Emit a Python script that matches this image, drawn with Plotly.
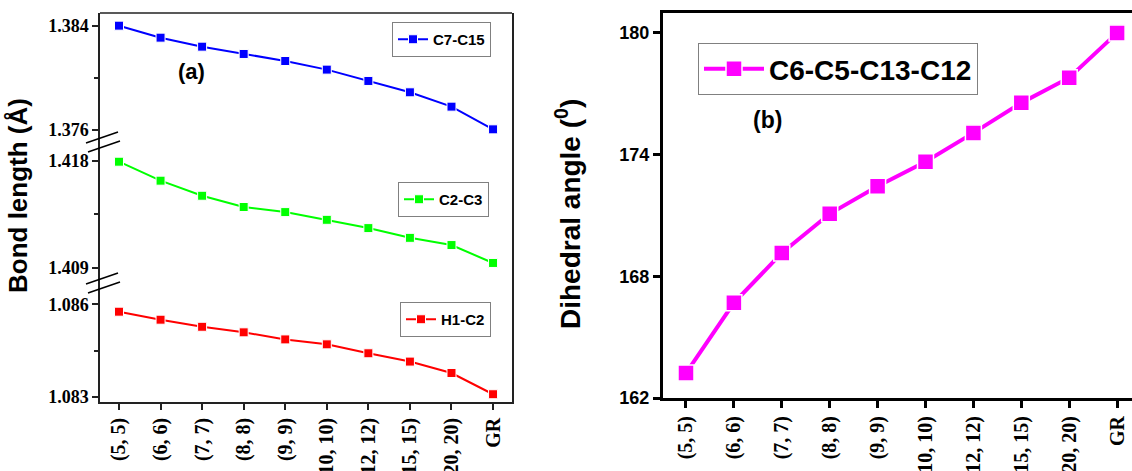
import plotly.graph_objects as go

W, H = 1132, 471

categories = ["(5, 5)", "(6, 6)", "(7, 7)", "(8, 8)", "(9, 9)", "(10, 10)",
              "(12, 12)", "(15, 15)", "(20, 20)", "GR"]

c7_c15 = [1.3840, 1.38308, 1.38239, 1.38183, 1.38129, 1.38063, 1.37976, 1.37889, 1.37779, 1.37605]
c2_c3 = [1.41794, 1.41634, 1.41507, 1.41412, 1.41369, 1.41304, 1.41234, 1.41152, 1.41091, 1.40940]
h1_c2 = [1.08576, 1.08550, 1.08527, 1.08509, 1.08486, 1.08470, 1.08441, 1.08414, 1.08377, 1.08308]
dihedral = [163.23, 166.69, 169.15, 171.08, 172.44, 173.65, 175.07, 176.55, 177.79, 180.0]


def px(x):
    return x / W


def py(y):
    return 1 - y / H


SERIF = "Liberation Serif, Times New Roman, serif"
SANS = "Liberation Sans, Arial, sans-serif"

fig = go.Figure()

mk_line = dict(color="white", width=1)
fig.add_trace(go.Scatter(x=categories, y=c7_c15, name="C7-C15", mode="lines+markers",
                         line=dict(color="#0000FF", width=2),
                         marker=dict(symbol="square", size=9, color="#0000FF", line=mk_line),
                         xaxis="x", yaxis="y", legend="legend", cliponaxis=False))
fig.add_trace(go.Scatter(x=categories, y=c2_c3, name="C2-C3", mode="lines+markers",
                         line=dict(color="#00FF00", width=2),
                         marker=dict(symbol="square", size=9, color="#00FF00", line=mk_line),
                         xaxis="x", yaxis="y2", legend="legend2", cliponaxis=False))
fig.add_trace(go.Scatter(x=categories, y=h1_c2, name="H1-C2", mode="lines+markers",
                         line=dict(color="#FF0000", width=2),
                         marker=dict(symbol="square", size=9, color="#FF0000", line=mk_line),
                         xaxis="x", yaxis="y3", legend="legend3", cliponaxis=False))
fig.add_trace(go.Scatter(x=categories, y=dihedral, name="C6-C5-C13-C12", mode="lines+markers",
                         line=dict(color="#FF00FF", width=4),
                         marker=dict(symbol="square", size=16, color="#FF00FF",
                                     line=dict(color="white", width=1.5)),
                         xaxis="x2", yaxis="y4", legend="legend4", cliponaxis=False))

left_axis_col = "#222222"
ytick_font_l = dict(family=SERIF, size=18, color="black", weight="bold")
xtick_font = dict(family=SERIF, size=20, color="black", weight="bold")

common_left_y = dict(showline=True, linecolor=left_axis_col, linewidth=1.5, mirror=True,
                     ticks="outside", ticklen=6, tickwidth=1.5, tickcolor=left_axis_col,
                     showgrid=False, zeroline=False, tickfont=ytick_font_l, anchor="x",
                     automargin=False)

fig.update_layout(
    template="none",
    width=W, height=H,
    margin=dict(l=0, r=0, t=0, b=0),
    paper_bgcolor="white", plot_bgcolor="white",
    showlegend=True,
    xaxis=dict(domain=[px(100), px(512)], range=[-0.457, 9.456], anchor="y3",
               showline=True, linecolor=left_axis_col, linewidth=1.5,
               ticks="outside", ticklen=6, tickwidth=1.5, tickcolor=left_axis_col,
               tickangle=-90, tickfont=xtick_font, showgrid=False, zeroline=False,
               automargin=False),
    yaxis=dict(domain=[py(141), py(13)], range=[1.375156, 1.384972],
               tickvals=[1.376, 1.384], ticktext=["1.376", "1.384"],
               minor=dict(ticks="outside", ticklen=4, tickcolor=left_axis_col, dtick=0.004, tick0=1.376),
               **common_left_y),
    yaxis2=dict(domain=[py(282), py(141)], range=[1.407794, 1.419687],
                tickvals=[1.409, 1.418], ticktext=["1.409", "1.418"],
                minor=dict(ticks="outside", ticklen=4, tickcolor=left_axis_col, dtick=0.0045, tick0=1.409),
                **common_left_y),
    yaxis3=dict(domain=[py(402), py(282)], range=[1.082828, 1.086724],
                tickvals=[1.083, 1.086], ticktext=["1.083", "1.086"],
                minor=dict(ticks="outside", ticklen=4, tickcolor=left_axis_col, dtick=0.0015, tick0=1.083),
                **common_left_y),
    xaxis2=dict(domain=[px(663), 1.0], range=[-0.480, 9.311], anchor="y4",
                showline=True, linecolor="black", linewidth=3, mirror=True,
                ticks="outside", ticklen=7, tickwidth=3, tickcolor="black",
                tickangle=-90, tickfont=xtick_font, showgrid=False, zeroline=False,
                automargin=False),
    yaxis4=dict(domain=[py(398), py(13)], range=[162, 180.98], anchor="x2",
                tickvals=[162, 168, 174, 180],
                showline=True, linecolor="black", linewidth=3, mirror=False,
                ticks="outside", ticklen=7, tickwidth=3, tickcolor="black",
                tickfont=dict(family=SANS, size=18, color="black", weight="bold"),
                showgrid=False, zeroline=False, automargin=False),
    legend=dict(x=px(392), y=py(22), xanchor="left", yanchor="top",
                bgcolor="white", bordercolor="#808080", borderwidth=1,
                font=dict(family=SANS, size=15, color="black", weight="bold"),
                itemwidth=30, tracegroupgap=0),
    legend2=dict(x=px(398), y=py(182), xanchor="left", yanchor="top",
                 bgcolor="white", bordercolor="#808080", borderwidth=1,
                 font=dict(family=SANS, size=15, color="black", weight="bold"),
                 itemwidth=30, tracegroupgap=0),
    legend3=dict(x=px(400), y=py(302), xanchor="left", yanchor="top",
                 bgcolor="white", bordercolor="#808080", borderwidth=1,
                 font=dict(family=SANS, size=15, color="black", weight="bold"),
                 itemwidth=30, tracegroupgap=0),
    legend4=dict(x=px(698), y=py(43), xanchor="left", yanchor="top",
                 bgcolor="white", bordercolor="#808080", borderwidth=1,
                 font=dict(family=SANS, size=28, color="black", weight="bold"),
                 itemwidth=60, tracegroupgap=0),
)

# top frame line for the left panel
shapes = [dict(type="line", xref="paper", yref="paper", x0=px(100), x1=px(512), y0=py(13), y1=py(13),
               line=dict(color=left_axis_col, width=1.5))]
# axis break marks
for yc in (142, 283):
    shapes.append(dict(type="line", xref="paper", yref="paper", x0=px(86), y0=py(yc + 1), x1=px(118), y1=py(yc - 10),
                       line=dict(color="black", width=1.5)))
    shapes.append(dict(type="line", xref="paper", yref="paper", x0=px(88), y0=py(yc + 10), x1=px(120), y1=py(yc - 1),
                       line=dict(color="black", width=1.5)))
fig.update_layout(shapes=shapes)

annotations = [
    dict(text="(a)", x=px(191), y=py(72), xref="paper", yref="paper", showarrow=False,
         xanchor="center", yanchor="middle",
         font=dict(family=SANS, size=22, color="black", weight="bold")),
    dict(text="(b)", x=px(767), y=py(120), xref="paper", yref="paper", showarrow=False,
         xanchor="center", yanchor="middle",
         font=dict(family=SANS, size=23, color="black", weight="bold")),
    dict(text="Bond length (Å)", x=px(18), y=py(196), xref="paper", yref="paper", showarrow=False,
         xanchor="center", yanchor="middle",
         textangle=-90, font=dict(family=SANS, size=26, color="black", weight="bold")),
    dict(text="Dihedral angle (<sup>0</sup>)", x=px(568), y=py(214), xref="paper", yref="paper",
         xanchor="center", yanchor="middle",
         showarrow=False, textangle=-90, font=dict(family=SANS, size=28, color="black", weight="bold")),
]
fig.update_layout(annotations=annotations)

fig.write_html("out.html",
               config={"displayModeBar": False},
               post_script="document.body.style.margin='0';document.body.style.padding='0';")
